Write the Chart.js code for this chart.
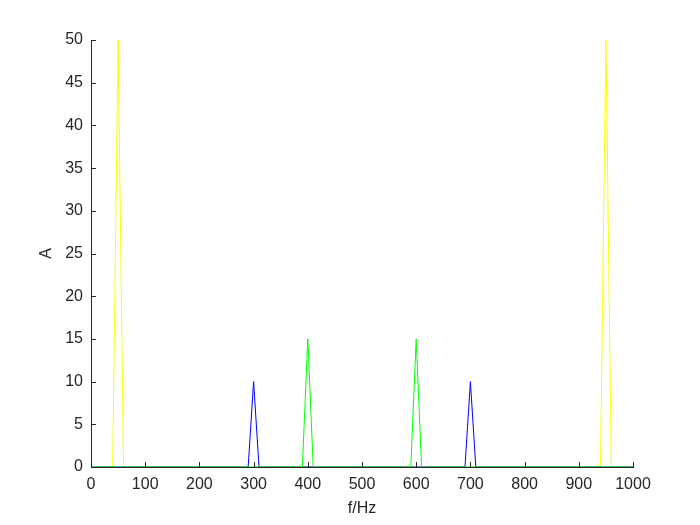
<!DOCTYPE html>
<html>
<head>
<meta charset="utf-8">
<script src="https://cdn.jsdelivr.net/npm/chart.js@4/dist/chart.umd.min.js"></script>
<style>
html,body{margin:0;padding:0;background:#fff;}
#wrap{width:700px;height:525px;position:relative;}
</style>
</head>
<body>
<div id="wrap"><canvas id="c" width="700" height="525"></canvas></div>
<script>
// Frequency (Hz) and amplitude (A) of each spectrum trace
const yellowF = [0, 40, 50, 60, 940, 950, 960, 1000];
const yellowA = [0, 0, 50, 0, 0, 50, 0, 0];
const blueF = [0, 290, 300, 310, 690, 700, 710, 1000];
const blueA = [0, 0, 10, 0, 0, 10, 0, 0];
const greenF = [0, 390, 400, 410, 590, 600, 610, 1000];
const greenA = [0, 0, 15, 0, 0, 15, 0, 0];

const xTicks = [0, 100, 200, 300, 400, 500, 600, 700, 800, 900, 1000];
const yTicks = [0, 5, 10, 15, 20, 25, 30, 35, 40, 45, 50];

const toPts = (f, a) => f.map((v, i) => ({x: v, y: a[i]}));

const axisColor = '#262626';
const font = {family: 'Liberation Sans, Arial, sans-serif', size: 16};

const inwardTicks = {
  id: 'inwardTicks',
  afterDatasetsDraw(chart) {
    const ctx = chart.ctx, xs = chart.scales.x, ys = chart.scales.y;
    ctx.save();
    ctx.strokeStyle = axisColor;
    ctx.lineWidth = 1;
    ctx.beginPath();
    xTicks.forEach(t => {
      const px = Math.round(xs.getPixelForValue(t)) + 0.5;
      ctx.moveTo(px, ys.bottom);
      ctx.lineTo(px, ys.bottom - 5);
    });
    yTicks.forEach(t => {
      const py = Math.round(ys.getPixelForValue(t)) + 0.5;
      ctx.moveTo(xs.left, py);
      ctx.lineTo(xs.left + 5, py);
    });
    ctx.stroke();
    ctx.restore();
  }
};

// Chart.js paints dataset 0 on top, so green (topmost in the reference) comes first
new Chart(document.getElementById('c'), {
  type: 'scatter',
  data: {
    datasets: [
      {data: toPts(greenF, greenA), borderColor: '#00ff00', showLine: true, pointRadius: 0, borderWidth: 1, tension: 0},
      {data: toPts(blueF, blueA), borderColor: '#0000ff', showLine: true, pointRadius: 0, borderWidth: 1, tension: 0},
      {data: toPts(yellowF, yellowA), borderColor: '#ffff00', showLine: true, pointRadius: 0, borderWidth: 1, tension: 0}
    ]
  },
  options: {
    responsive: false,
    animation: false,
    layout: {padding: {top: 40, right: 67, left: 0, bottom: 0}},
    plugins: {legend: {display: false}, tooltip: {enabled: false}},
    scales: {
      x: {
        type: 'linear', min: 0, max: 1000,
        afterBuildTicks: s => { s.ticks = xTicks.map(v => ({value: v})); },
        afterFit: s => { s.height = 58; },
        grid: {display: false, drawTicks: false},
        border: {display: true, color: axisColor, width: 1},
        ticks: {color: axisColor, font: font, padding: 8, maxRotation: 0, autoSkip: false, callback: v => String(v)},
        title: {display: true, text: 'f/Hz', color: axisColor, font: font, padding: {top: 0, bottom: 7}}
      },
      y: {
        type: 'linear', min: 0, max: 50,
        afterBuildTicks: s => { s.ticks = yTicks.map(v => ({value: v})); },
        afterFit: s => { s.width = 91; },
        grid: {display: false, drawTicks: false},
        border: {display: true, color: axisColor, width: 1},
        ticks: {color: axisColor, font: font, padding: 8, autoSkip: false, callback: v => String(v)},
        title: {display: true, text: 'A', color: axisColor, font: font, padding: {top: 37, bottom: 0}}
      }
    }
  },
  plugins: [inwardTicks]
});
</script>
</body>
</html>
